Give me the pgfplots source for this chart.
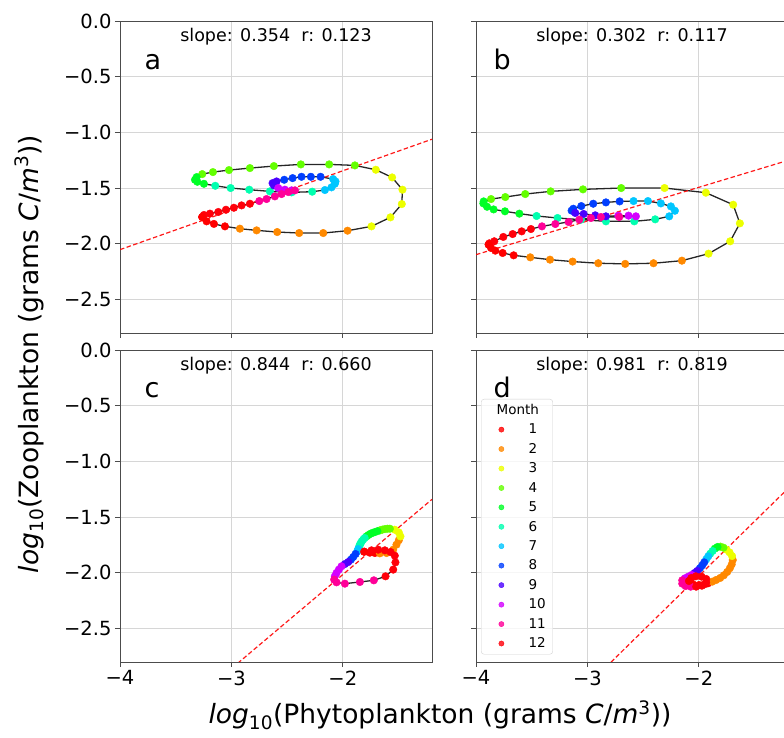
\documentclass[border=0pt]{standalone}
\usepackage{fontspec}
\setmainfont{DejaVu Sans}
\usepackage{pgfplots}
\usepackage{pgfplotstable}
\pgfplotsset{compat=1.18}

\definecolor{m1}{RGB}{255,0,0}
\definecolor{m2}{RGB}{255,137,0}
\definecolor{m3}{RGB}{236,255,0}
\definecolor{m4}{RGB}{99,255,0}
\definecolor{m5}{RGB}{0,255,38}
\definecolor{m6}{RGB}{0,255,175}
\definecolor{m7}{RGB}{0,198,255}
\definecolor{m8}{RGB}{0,62,255}
\definecolor{m9}{RGB}{75,0,255}
\definecolor{m10}{RGB}{212,0,255}
\definecolor{m11}{RGB}{255,0,152}
\definecolor{m12}{RGB}{255,0,10}

\pgfplotstableread{
x y m
-3.262 -1.759 1
-3.223 -1.798 1
-3.157 -1.821 1
-3.058 -1.843 1
-2.924 -1.864 2
-2.774 -1.879 2
-2.589 -1.894 2
-2.392 -1.903 2
-2.176 -1.903 2
-1.958 -1.882 2
-1.743 -1.843 3
-1.573 -1.762 3
-1.471 -1.643 3
-1.465 -1.514 3
-1.558 -1.404 3
-1.704 -1.335 3
-1.892 -1.296 4
-2.123 -1.287 4
-2.377 -1.287 4
-2.619 -1.302 4
-2.834 -1.320 4
-3.022 -1.338 4
-3.166 -1.356 4
-3.262 -1.374 4
-3.312 -1.401 5
-3.327 -1.425 5
-3.306 -1.443 5
-3.247 -1.461 5
-3.145 -1.479 6
-3.007 -1.499 6
-2.840 -1.514 6
-2.655 -1.529 6
-2.460 -1.538 6
-2.275 -1.532 6
-2.161 -1.517 7
-2.102 -1.493 7
-2.072 -1.461 7
-2.066 -1.440 7
-2.087 -1.419 7
-2.200 -1.398 8
-2.287 -1.398 8
-2.371 -1.398 8
-2.451 -1.410 8
-2.526 -1.425 8
-2.595 -1.440 9
-2.631 -1.455 9
-2.619 -1.476 9
-2.580 -1.499 10
-2.520 -1.514 10
-2.460 -1.520 10
-2.430 -1.520 11
-2.490 -1.535 11
-2.550 -1.553 11
-2.610 -1.574 11
-2.685 -1.598 11
-2.750 -1.616 11
-2.834 -1.640 12
-2.909 -1.655 12
-2.978 -1.676 12
-3.049 -1.694 12
-3.118 -1.714 12
-3.193 -1.729 12
-3.247 -1.741 12
-3.262 -1.759 1
}\tableA

\pgfplotstableread{
x y m
-3.886 -2.007 1
-3.865 -2.037 1
-3.827 -2.061 1
-3.761 -2.082 1
-3.662 -2.103 1
-3.513 -2.121 2
-3.336 -2.142 2
-3.133 -2.159 2
-2.903 -2.174 2
-2.661 -2.180 2
-2.407 -2.174 2
-2.152 -2.151 2
-1.913 -2.088 3
-1.719 -1.977 3
-1.632 -1.816 3
-1.692 -1.649 3
-1.937 -1.541 3
-2.308 -1.499 3
-2.697 -1.499 4
-3.040 -1.511 4
-3.330 -1.529 4
-3.558 -1.553 4
-3.737 -1.580 4
-3.865 -1.598 4
-3.931 -1.619 5
-3.934 -1.637 5
-3.901 -1.667 5
-3.842 -1.691 5
-3.740 -1.708 5
-3.611 -1.729 5
-3.456 -1.750 6
-3.268 -1.768 6
-3.058 -1.783 6
-2.834 -1.798 6
-2.580 -1.798 6
-2.392 -1.780 6
-2.266 -1.753 7
-2.215 -1.703 7
-2.251 -1.664 7
-2.341 -1.637 7
-2.457 -1.616 7
-2.586 -1.616 7
-2.711 -1.619 8
-2.834 -1.628 8
-2.948 -1.640 8
-3.055 -1.661 8
-3.127 -1.685 8
-3.142 -1.702 8
-3.109 -1.723 9
-3.034 -1.732 9
-2.930 -1.744 9
-2.834 -1.753 9
-2.723 -1.747 10
-2.631 -1.747 10
-2.565 -1.753 10
-2.714 -1.759 11
-2.879 -1.759 11
-2.969 -1.768 11
-3.073 -1.783 11
-3.169 -1.804 11
-3.288 -1.822 11
-3.408 -1.843 11
-3.507 -1.867 12
-3.590 -1.888 12
-3.671 -1.912 12
-3.755 -1.938 12
-3.836 -1.977 12
-3.880 -1.995 12
-3.886 -2.007 1
}\tableB

\pgfplotstableread{
x y m
-1.809 -1.810 1
-1.758 -1.819 1
-1.713 -1.822 1
-1.668 -1.825 2
-1.608 -1.822 2
-1.548 -1.792 2
-1.519 -1.747 2
-1.498 -1.708 2
-1.483 -1.673 3
-1.498 -1.637 3
-1.534 -1.613 3
-1.578 -1.604 4
-1.600 -1.604 4
-1.623 -1.607 4
-1.645 -1.612 4
-1.668 -1.619 4
-1.690 -1.626 5
-1.713 -1.634 5
-1.733 -1.641 5
-1.752 -1.649 5
-1.770 -1.660 5
-1.788 -1.673 5
-1.804 -1.687 6
-1.818 -1.702 6
-1.830 -1.717 6
-1.839 -1.732 6
-1.847 -1.747 6
-1.853 -1.762 6
-1.862 -1.786 7
-1.871 -1.807 7
-1.886 -1.831 8
-1.907 -1.858 8
-1.928 -1.882 8
-1.952 -1.903 9
-1.982 -1.921 9
-2.012 -1.941 10
-2.036 -1.971 10
-2.057 -2.001 10
-2.072 -2.031 10
-2.078 -2.061 11
-2.057 -2.085 11
-1.982 -2.097 11
-1.847 -2.082 11
-1.722 -2.067 11
-1.617 -2.031 12
-1.548 -1.971 12
-1.528 -1.906 12
-1.534 -1.846 12
-1.572 -1.813 12
-1.623 -1.798 12
-1.683 -1.792 12
-1.743 -1.798 12
-1.809 -1.810 1
}\tableC

\pgfplotstableread{
x y m
-2.089 -2.073 1
-2.053 -2.103 1
-1.998 -2.109 1
-1.949 -2.103 1
-1.919 -2.094 1
-1.880 -2.079 2
-1.845 -2.064 2
-1.809 -2.046 2
-1.776 -2.022 2
-1.746 -1.992 2
-1.722 -1.959 2
-1.705 -1.924 2
-1.696 -1.885 2
-1.702 -1.849 3
-1.725 -1.816 3
-1.752 -1.792 3
-1.779 -1.774 4
-1.806 -1.765 4
-1.833 -1.768 5
-1.857 -1.783 5
-1.877 -1.804 6
-1.898 -1.828 6
-1.916 -1.852 7
-1.934 -1.879 7
-1.952 -1.906 8
-1.970 -1.933 8
-1.991 -1.959 8
-2.015 -1.983 9
-2.038 -2.001 9
-2.065 -2.019 10
-2.095 -2.034 10
-2.125 -2.049 10
-2.149 -2.067 11
-2.149 -2.097 11
-2.119 -2.118 11
-2.074 -2.124 11
-2.024 -2.124 12
-1.973 -2.115 12
-1.934 -2.088 12
-1.934 -2.055 12
-1.976 -2.034 12
-2.027 -2.031 12
-2.068 -2.046 12
-2.089 -2.073 1
}\tableD

\pgfplotsset{
  panel/.style={
    scale only axis, width=312pt, height=312pt, anchor=south west,
    xmin=-4, xmax=-1.2, ymin=-2.8, ymax=0,
    xtick={-4,-3,-2}, ytick={0,-0.5,-1,-1.5,-2,-2.5},
    xticklabels={−4,−3,−2},
    yticklabels={0.0,−0.5,−1.0,−1.5,−2.0,−2.5},
    tick align=outside, tick pos=left, major tick length=5pt,
    grid=major, grid style={black!16, line width=0.8pt},
    axis line style={black!70, line width=0.9pt},
    every tick/.style={black!70, line width=0.9pt},
    tick label style={font=\fontsize{19.5}{20}\selectfont},
  },
  loopline/.style={black!85, line width=1.3pt, no markers, forget plot},
  dots/.style={scatter, only marks, scatter src=explicit symbolic, forget plot,
    mark=*, mark size=3.8pt,
    scatter/classes={
      1={mark=*,m1}, 2={mark=*,m2}, 3={mark=*,m3}, 4={mark=*,m4},
      5={mark=*,m5}, 6={mark=*,m6}, 7={mark=*,m7}, 8={mark=*,m8},
      9={mark=*,m9}, 10={mark=*,m10}, 11={mark=*,m11}, 12={mark=*,m12}}},
  regline/.style={red, line width=1.2pt, dash pattern=on 4.5pt off 2.5pt, opacity=0.9, forget plot},
  monthimg/.style={only marks, mark=*, mark size=2.6pt,
    legend image code/.code={\path (0pt,0pt) (20pt,0pt); \draw[##1] plot coordinates {(15pt,0pt)};}},
}
\tikzset{
  stat/.style={font=\fontsize{17.5}{18}\selectfont, anchor=center},
  letter/.style={font=\fontsize{27}{27}\selectfont, anchor=base west, inner sep=0pt},
}

\begin{document}
\begin{tikzpicture}
\path[use as bounding box] (0pt,0pt) rectangle (784pt,738pt);

% panel a
\begin{axis}[panel, at={(120pt,405pt)}, xticklabels={}]
\addplot[loopline] table[x=x,y=y] {\tableA};
\addplot[dots] table[x=x,y=y,meta=m] {\tableA};
\addplot[regline] coordinates {(-4,-2.052) (-1.2,-1.061)};
\node[stat] at (rel axis cs:0.5,1) [yshift=-16pt] {slope: 0.354\ \ r: 0.123};
\node[letter] at (rel axis cs:0,1) [xshift=24.5pt, yshift=-49pt] {a};
\end{axis}

% panel b
\begin{axis}[panel, at={(476pt,405pt)}, xticklabels={}, yticklabels={}]
\addplot[loopline] table[x=x,y=y] {\tableB};
\addplot[dots] table[x=x,y=y,meta=m] {\tableB};
\addplot[regline] coordinates {(-4,-2.097) (-1.2,-1.251)};
\node[stat] at (rel axis cs:0.5,1) [yshift=-16pt] {slope: 0.302\ \ r: 0.117};
\node[letter] at (rel axis cs:0,1) [xshift=17.5pt, yshift=-49pt] {b};
\end{axis}

% panel c
\begin{axis}[panel, at={(120pt,76pt)}]
\addplot[loopline] table[x=x,y=y] {\tableC};
\addplot[dots] table[x=x,y=y,meta=m] {\tableC};
\addplot[regline] coordinates {(-4,-3.703) (-1.2,-1.340)};
\node[stat] at (rel axis cs:0.5,1) [yshift=-16pt] {slope: 0.844\ \ r: 0.660};
\node[letter] at (rel axis cs:0,1) [xshift=24.5pt, yshift=-48pt] {c};
\end{axis}

% panel d
\begin{axis}[panel, at={(476pt,76pt)}, yticklabels={},
  legend style={at={(0.016,0.843)}, anchor=north west,
    draw=black!18, rounded corners=3pt, fill=white, fill opacity=0.8, text opacity=1,
    font=\fontsize{13.5}{14}\selectfont, inner xsep=5pt, inner ysep=3pt,
    row sep=4pt, column sep=20pt, cells={anchor=west}},
  legend cell align=left]
\addplot[loopline] table[x=x,y=y] {\tableD};
\addplot[dots] table[x=x,y=y,meta=m] {\tableD};
\addplot[regline] coordinates {(-4,-3.990) (-1.2,-1.243)};
\node[stat] at (rel axis cs:0.5,1) [yshift=-16pt] {slope: 0.981\ \ r: 0.819};
\node[letter] at (rel axis cs:0,1) [xshift=17.5pt, yshift=-48pt] {d};
\addlegendimage{empty legend}\addlegendentry{\hspace*{-32pt}Month}
\addlegendimage{monthimg, m1}\addlegendentry{1}
\addlegendimage{monthimg, m2}\addlegendentry{2}
\addlegendimage{monthimg, m3}\addlegendentry{3}
\addlegendimage{monthimg, m4}\addlegendentry{4}
\addlegendimage{monthimg, m5}\addlegendentry{5}
\addlegendimage{monthimg, m6}\addlegendentry{6}
\addlegendimage{monthimg, m7}\addlegendentry{7}
\addlegendimage{monthimg, m8}\addlegendentry{8}
\addlegendimage{monthimg, m9}\addlegendentry{9}
\addlegendimage{monthimg, m10}\addlegendentry{10}
\addlegendimage{monthimg, m11}\addlegendentry{11}
\addlegendimage{monthimg, m12}\addlegendentry{12}
\end{axis}

\node[rotate=90, anchor=base, font=\fontsize{26.5}{27}\selectfont] at (38pt,384pt)
  {\textit{log}\textsubscript{10}(Zooplankton (grams \textit{C}/\textit{m}\textsuperscript{3}))};
\node[anchor=base, font=\fontsize{26.5}{27}\selectfont] at (440pt,14pt)
  {\textit{log}\textsubscript{10}(Phytoplankton (grams \textit{C}/\textit{m}\textsuperscript{3}))};
\end{tikzpicture}
\end{document}
